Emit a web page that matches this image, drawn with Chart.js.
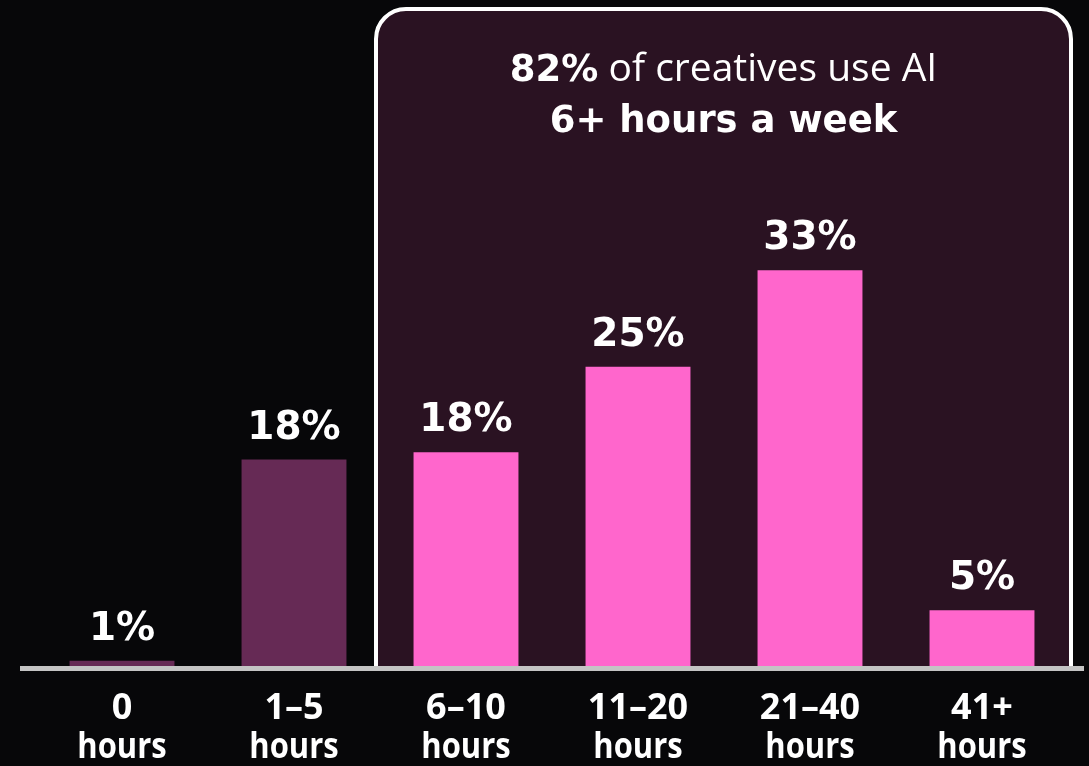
<!DOCTYPE html>
<html>
<head>
<meta charset="utf-8">
<script src="https://cdn.jsdelivr.net/npm/chart.js@4.4.1/dist/chart.umd.min.js"></script>
<style>
  html, body { margin: 0; padding: 0; background: #070709; }
  #wrap { width: 1089px; height: 766px; position: relative; }
</style>
</head>
<body>
<div id="wrap"><canvas id="horasChart" width="1089" height="766"></canvas></div>
<script>
// Datos
const categorias = [['0', 'hours'], ['1–5', 'hours'], ['6–10', 'hours'], ['11–20', 'hours'], ['21–40', 'hours'], ['41+', 'hours']];
const valores = [0.6, 17.3, 17.9, 25, 33, 4.8];
const etiquetas = ['1%', '18%', '18%', '25%', '33%', '5%'];
const colores = ['#662a55', '#662a55', '#ff66cc', '#ff66cc', '#ff66cc', '#ff66cc'];
const tituloLinea1 = ['82%', ' of creatives use AI'];
const tituloLinea2 = '6+ hours a week';

const NEGRITA = "'DejaVu Sans', sans-serif";
const NORMAL = "'Open Sans', 'Noto Sans', sans-serif";

// Caja redondeada + titulo (detras de las barras)
const cajaPlugin = {
    id: 'caja',
    beforeDatasetsDraw(chart) {
        const ctx = chart.ctx;
        const base = chart.scales.y.getPixelForValue(0);
        const x0 = 376, x1 = 1071, y0 = 9, r = 30;
        const trazo = () => {
            ctx.beginPath();
            ctx.moveTo(x0, base);
            ctx.lineTo(x0, y0 + r);
            ctx.arcTo(x0, y0, x0 + r, y0, r);
            ctx.lineTo(x1 - r, y0);
            ctx.arcTo(x1, y0, x1, y0 + r, r);
            ctx.lineTo(x1, base);
        };
        ctx.save();
        trazo();
        ctx.closePath();
        ctx.fillStyle = '#2a1222';
        ctx.fill();
        trazo();
        ctx.strokeStyle = '#ffffff';
        ctx.lineWidth = 4;
        ctx.stroke();

        // titulo
        const cx = (x0 + x1) / 2;
        ctx.fillStyle = '#ffffff';
        ctx.textBaseline = 'alphabetic';
        ctx.font = 'bold 37px ' + NEGRITA;
        const w1 = ctx.measureText(tituloLinea1[0]).width;
        ctx.font = '39px ' + NORMAL;
        const w2 = ctx.measureText(tituloLinea1[1]).width;
        const x = cx - (w1 + w2) / 2;
        ctx.textAlign = 'left';
        ctx.font = 'bold 37px ' + NEGRITA;
        ctx.fillText(tituloLinea1[0], x, 81);
        ctx.font = '39px ' + NORMAL;
        ctx.fillText(tituloLinea1[1], x + w1, 81);
        ctx.textAlign = 'center';
        ctx.font = 'bold 37px ' + NEGRITA;
        ctx.fillText(tituloLinea2, cx, 132);
        ctx.restore();
    }
};

// Linea base, etiquetas de valor y de categoria
const textosPlugin = {
    id: 'textos',
    afterDatasetsDraw(chart) {
        const ctx = chart.ctx;
        const xs = chart.scales.x;
        const ys = chart.scales.y;
        const base = ys.getPixelForValue(0);
        ctx.save();
        ctx.fillStyle = '#c4c4c4';
        ctx.fillRect(20, base - 2, 1064, 5);

        ctx.fillStyle = '#ffffff';
        ctx.textAlign = 'center';
        ctx.textBaseline = 'alphabetic';
        ctx.font = 'bold 39px ' + NEGRITA;
        const meta = chart.getDatasetMeta(0);
        meta.data.forEach((bar, i) => {
            ctx.fillText(etiquetas[i], bar.x, bar.y - 21);
        });

        categorias.forEach((lab, i) => {
            const x = xs.getPixelForValue(i);
            ctx.font = 'bold 36px ' + NORMAL;
            ctx.fillText(lab[0], x, 719);
            // "hours" algo condensado, como en el original
            ctx.save();
            ctx.translate(x, 758);
            ctx.scale(0.86, 1);
            ctx.font = 'bold 36px ' + NORMAL;
            ctx.fillText(lab[1], 0, 0);
            ctx.restore();
        });
        ctx.restore();
    }
};

document.addEventListener('DOMContentLoaded', function () {
    const ctx = document.getElementById('horasChart').getContext('2d');
    new Chart(ctx, {
        type: 'bar',
        data: {
            labels: categorias,
            datasets: [{
                data: valores,
                backgroundColor: colores,
                borderWidth: 0,
                barPercentage: 0.61,
                categoryPercentage: 1.0
            }]
        },
        options: {
            responsive: false,
            animation: false,
            layout: {
                padding: { left: 36, right: 21, top: 186, bottom: 98 }
            },
            plugins: {
                legend: { display: false },
                tooltip: { enabled: false }
            },
            scales: {
                x: { display: false },
                y: { display: false, min: 0, max: 40 }
            }
        },
        plugins: [cajaPlugin, textosPlugin]
    });
});
</script>
</body>
</html>
